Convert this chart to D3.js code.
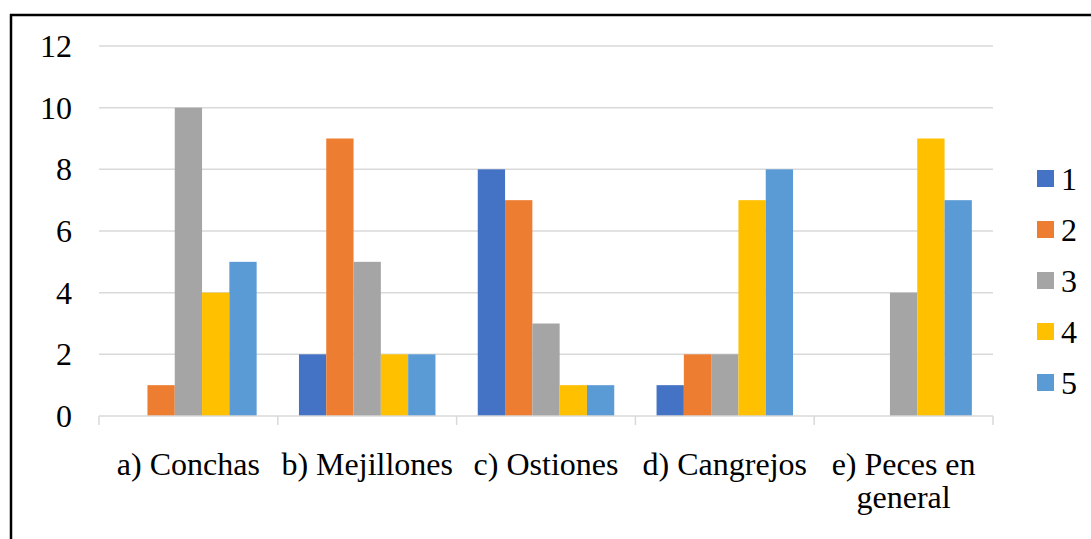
<!DOCTYPE html>
<html>
<head>
<meta charset="utf-8">
<script src="https://cdn.jsdelivr.net/npm/d3@7"></script>
<style>
  body { margin: 0; background: #fff; }
  text { font-family: "Liberation Serif", "Times New Roman", serif; fill: #000; }
</style>
</head>
<body>
<svg id="chart" width="1091" height="539"></svg>
<script>
// categories and series
var categories = ["a) Conchas", "b) Mejillones", "c) Ostiones", "d) Cangrejos", "e) Peces en general"];
var seriesNames = ["1", "2", "3", "4", "5"];
var s1 = [0, 2, 8, 1, 0];
var s2 = [1, 9, 7, 2, 0];
var s3 = [10, 5, 3, 2, 4];
var s4 = [4, 2, 1, 7, 9];
var s5 = [5, 2, 1, 8, 7];
var yTicks = [0, 2, 4, 6, 8, 10, 12];
var colors = ["#4472C4", "#ED7D31", "#A5A5A5", "#FFC000", "#5B9BD5"];

var allSeries = [s1, s2, s3, s4, s5];

var svg = d3.select("svg#chart");

// frame (top + left only visible)
svg.append("line").attr("x1", 10).attr("x2", 1091).attr("y1", 15).attr("y2", 15)
  .attr("stroke", "#000").attr("stroke-width", 2.5);
svg.append("line").attr("x1", 11).attr("x2", 11).attr("y1", 14).attr("y2", 539)
  .attr("stroke", "#000").attr("stroke-width", 2.5);

var plotLeft = 99, plotRight = 993, plotTop = 46, plotBottom = 416;

var x = d3.scaleBand().domain(categories).range([plotLeft, plotRight]).paddingInner(0).paddingOuter(0);
var xs = d3.scaleBand().domain(seriesNames).range([0, x.bandwidth()]).paddingOuter(0.775).paddingInner(0);
var y = d3.scaleLinear().domain([0, 12]).range([plotBottom, plotTop]);

// gridlines
svg.append("g").selectAll("line").data(yTicks.filter(function(d) { return d > 0; }))
  .enter().append("line")
  .attr("x1", plotLeft).attr("x2", plotRight)
  .attr("y1", function(d) { return y(d); }).attr("y2", function(d) { return y(d); })
  .attr("stroke", "#d9d9d9").attr("stroke-width", 1.5);

// y labels
svg.append("g").selectAll("text").data(yTicks).enter().append("text")
  .attr("x", 72).attr("y", function(d) { return y(d) + 11; })
  .attr("text-anchor", "end").style("font-size", "32px")
  .text(function(d) { return d; });

// bars
var groups = svg.append("g").selectAll("g").data(categories).enter().append("g")
  .attr("transform", function(d) { return "translate(" + x(d) + ",0)"; });

groups.selectAll("rect")
  .data(function(d, i) { return allSeries.map(function(s, j) { return { key: seriesNames[j], value: s[i], c: colors[j] }; }); })
  .enter().append("rect")
  .attr("x", function(d) { return xs(d.key); })
  .attr("width", xs.bandwidth())
  .attr("y", function(d) { return y(d.value); })
  .attr("height", function(d) { return y(0) - y(d.value); })
  .attr("fill", function(d) { return d.c; });

// x axis line + ticks
svg.append("line").attr("x1", plotLeft).attr("x2", plotRight).attr("y1", plotBottom).attr("y2", plotBottom)
  .attr("stroke", "#d9d9d9").attr("stroke-width", 1.5);
var tickXs = categories.map(function(c) { return x(c); }).concat([plotRight]);
svg.append("g").selectAll("line").data(tickXs).enter().append("line")
  .attr("x1", function(d) { return d; }).attr("x2", function(d) { return d; })
  .attr("y1", plotBottom).attr("y2", plotBottom + 9)
  .attr("stroke", "#d9d9d9").attr("stroke-width", 1.5);

// category labels (wrap the long one)
var labelLines = {
  "e) Peces en general": ["e) Peces en", "general"]
};
svg.append("g").selectAll("text").data(categories).enter().append("text")
  .attr("text-anchor", "middle").style("font-size", "32px")
  .each(function(d) {
    var lines = labelLines[d] || [d];
    var t = d3.select(this);
    lines.forEach(function(l, i) {
      t.append("tspan").attr("x", x(d) + x.bandwidth() / 2)
        .attr("y", 475 + i * 33).text(l);
    });
  });

// legend
var legend = svg.append("g").selectAll("g").data(seriesNames).enter().append("g")
  .attr("transform", function(d, i) { return "translate(1037," + (170 + i * 51) + ")"; });
legend.append("rect").attr("width", 17).attr("height", 17)
  .attr("fill", function(d, i) { return colors[i]; });
legend.append("text").attr("x", 24).attr("y", 20).style("font-size", "32px")
  .text(function(d) { return d; });
</script>
</body>
</html>
